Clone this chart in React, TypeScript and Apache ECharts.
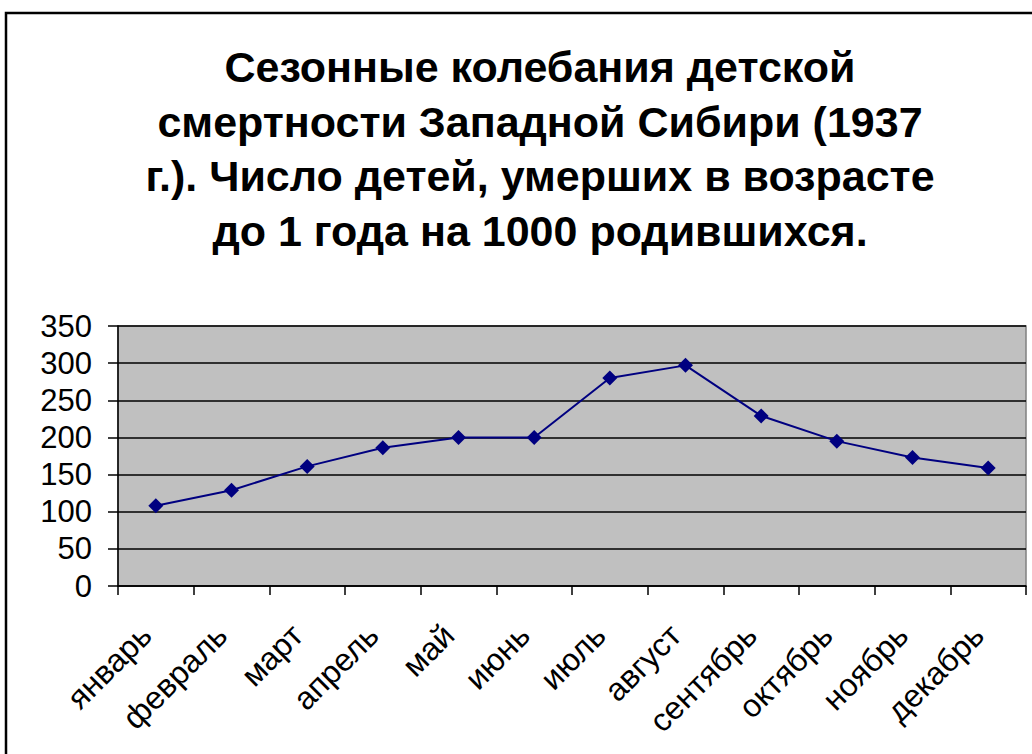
import React, { useEffect, useRef } from "react";
import * as echarts from "echarts";

const months = ["январь", "февраль", "март", "апрель", "май", "июнь", "июль", "август", "сентябрь", "октябрь", "ноябрь", "декабрь"];
const deaths = [108, 129, 161, 186, 200, 200, 280, 297, 229, 195, 173, 159];
const titleText = "Сезонные колебания детской\nсмертности Западной Сибири (1937\nг.). Число детей, умерших в возрасте\nдо 1 года на 1000 родившихся.";

const FONT = "'Liberation Sans', Arial, sans-serif";

export default function App() {
  const ref = useRef<HTMLDivElement>(null);
  useEffect(() => {
    if (!ref.current) return;
    const chart = echarts.init(ref.current, null, { renderer: "svg" });
    chart.setOption({
      animation: false,
      backgroundColor: "#ffffff",
      title: {
        text: titleText,
        left: 535,
        top: 35,
        textAlign: "center",
        textStyle: { fontFamily: FONT, fontWeight: "bold", fontSize: 43, lineHeight: 54.5, color: "#000" },
      },
      graphic: [
        {
          type: "rect",
          shape: { x: 6, y: 13, width: 1100, height: 800 },
          style: { fill: "none", stroke: "#000", lineWidth: 2.5 },
          silent: true,
        },
      ],
      grid: {
        left: 118,
        top: 326,
        right: 6,
        bottom: 168,
        show: true,
        backgroundColor: "#c0c0c0",
        borderColor: "#808080",
        borderWidth: 1.5,
      },
      xAxis: {
        type: "category",
        data: months,
        boundaryGap: true,
        axisLine: { show: true, lineStyle: { color: "#000", width: 1.5 } },
        axisTick: { show: true, length: 9, inside: false, lineStyle: { color: "#000", width: 1.5 } },
        axisLabel: { rotate: 45, margin: 34, padding: [0, 14, 0, 0], fontFamily: FONT, fontSize: 32, color: "#000", interval: 0 },
        splitLine: { show: false },
      },
      yAxis: {
        type: "value",
        min: 0,
        max: 350,
        interval: 50,
        axisLine: { show: true, lineStyle: { color: "#000", width: 1.5 } },
        axisTick: { show: true, length: 10, lineStyle: { color: "#000", width: 1.5 } },
        axisLabel: { margin: 26, fontFamily: FONT, fontSize: 31, color: "#000" },
        splitLine: { show: true, lineStyle: { color: "#000", width: 1.5 } },
      },
      series: [
        {
          type: "line",
          data: deaths,
          symbol: "diamond",
          symbolSize: 15,
          itemStyle: { color: "#000080" },
          lineStyle: { color: "#000080", width: 2 },
        },
      ],
    });
    return () => chart.dispose();
  }, []);
  return <div ref={ref} style={{ position: "fixed", left: 0, top: 0, width: 1032, height: 754 }} />;
}
